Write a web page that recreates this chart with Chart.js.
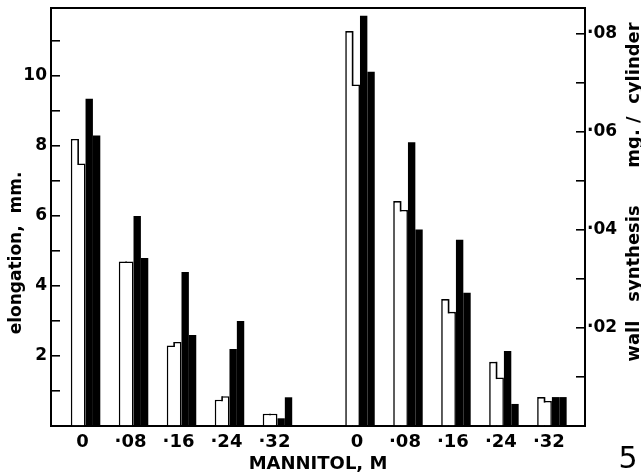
<!DOCTYPE html>
<html>
<head>
<meta charset="utf-8">
<script src="https://cdn.jsdelivr.net/npm/chart.js@4.4.1/dist/chart.umd.min.js"></script>
<style>
  html, body { margin: 0; padding: 0; background: #fff; }
  canvas { display: block; }
</style>
</head>
<body>
<canvas id="myChart" width="641" height="475"></canvas>
<script>
// mannitol concentration (M), same five levels in both halves
var mannitol = ['0', '·08', '·16', '·24', '·32'];

// left half: elongation, mm.
var elongOpenA  = [8.2, 4.7, 2.3, 0.75, 0.35];
var elongOpenB  = [7.5, 4.7, 2.4, 0.85, 0.35];
var elongSolidA = [9.35, 6.0, 4.4, 2.2, 0.22];
var elongSolidB = [8.3, 4.8, 2.6, 3.0, 0.82];

// right half: wall synthesis, mg. / cylinder
var wallOpenA  = [0.0806, 0.0459, 0.0259, 0.0131, 0.0059];
var wallOpenB  = [0.0697, 0.0441, 0.0233, 0.0099, 0.0051];
var wallSolidA = [0.0837, 0.0579, 0.0380, 0.0153, 0.0059];
var wallSolidB = [0.0723, 0.0401, 0.0272, 0.0045, 0.0059];

var leftTickLabels  = ['2', '4', '6', '8', '10'];
var rightTickLabels = ['·02', '·04', '·06', '·08'];

// slot positions on the x axis; the second half starts after a wider gap
var GAP = 1.72;
var leftX  = mannitol.map(function (m, i) { return i; });
var rightX = mannitol.map(function (m, i) { return i + 4 + GAP; });
var allX = leftX.concat(rightX);
var allLabels = mannitol.concat(mannitol);

function pts(xs, ys) {
    return ys.map(function (v, i) { return {x: xs[i], y: v}; });
}

var FONT = "'DejaVu Sans', sans-serif";
var open  = {backgroundColor: '#fff', borderColor: '#000', borderSkipped: false};
var solid = {backgroundColor: '#000', borderColor: '#000', borderWidth: 0};

function ds(label, data, axis, stack, style, bw) {
    var d = Object.assign({label: label, data: data, yAxisID: axis, stack: stack,
        categoryPercentage: 0.615, barPercentage: 1.0}, style);
    if (bw) d.borderWidth = bw;
    return d;
}

function noPad(s) {
    s.paddingTop = 0;
    s.paddingBottom = 0;
    s.paddingLeft = 0;
    s.paddingRight = 0;
}

var stepLines = {
    id: 'stepLines',
    afterDatasetsDraw: function (chart) {
        var ctx = chart.ctx;
        ctx.save();
        ctx.strokeStyle = '#000';
        ctx.lineWidth = 1.6;
        [[0, 1], [4, 5]].forEach(function (p) {
            var a = chart.getDatasetMeta(p[0]).data;
            var b = chart.getDatasetMeta(p[1]).data;
            a.forEach(function (el, i) {
                var x = el.x + el.width / 2;
                var y1 = Math.min(el.y, b[i].y), y2 = Math.max(el.y, b[i].y) + 1.6;
                ctx.beginPath();
                ctx.moveTo(x, y1);
                ctx.lineTo(x, y2);
                ctx.stroke();
            });
        });
        ctx.restore();
    },
    afterDraw: function (chart) {
        var ctx = chart.ctx, area = chart.chartArea;
        ctx.save();
        // top edge of the frame
        ctx.strokeStyle = '#000';
        ctx.lineWidth = 2;
        ctx.beginPath();
        ctx.moveTo(area.left - 1, area.top);
        ctx.lineTo(area.right + 1, area.top);
        ctx.stroke();
        ctx.fillStyle = '#000';
        ctx.textAlign = 'center';
        ctx.textBaseline = 'middle';
        ctx.font = 'bold 17px ' + FONT;
        ctx.save();
        ctx.translate(17, 253);
        ctx.rotate(-Math.PI / 2);
        ctx.fillText('elongation,  mm.', 0, 0);
        ctx.restore();
        ctx.font = 'bold 18px ' + FONT;
        ctx.save();
        ctx.translate(634, 192);
        ctx.rotate(-Math.PI / 2);
        ctx.fillText('wall   synthesis      mg. /  cylinder', 0, 0);
        ctx.restore();
        ctx.font = '30px ' + FONT;
        ctx.fillText('5', 628, 460);
        ctx.restore();
    }
};

var ctx = document.getElementById('myChart').getContext('2d');
var myChart = new Chart(ctx, {
    type: 'bar',
    data: {
        datasets: [
            ds('elongation A', pts(leftX, elongOpenA), 'y', 'oa', open, {left: 1.6, top: 1.6, right: 0, bottom: 0}),
            ds('elongation B', pts(leftX, elongOpenB), 'y', 'ob', open, {left: 0, top: 1.6, right: 1.6, bottom: 0}),
            ds('elongation C', pts(leftX, elongSolidA), 'y', 'sa', solid),
            ds('elongation D', pts(leftX, elongSolidB), 'y', 'sb', solid),
            ds('wall A', pts(rightX, wallOpenA), 'y2', 'oa', open, {left: 1.6, top: 1.6, right: 0, bottom: 0}),
            ds('wall B', pts(rightX, wallOpenB), 'y2', 'ob', open, {left: 0, top: 1.6, right: 1.6, bottom: 0}),
            ds('wall C', pts(rightX, wallSolidA), 'y2', 'sa', solid),
            ds('wall D', pts(rightX, wallSolidB), 'y2', 'sb', solid)
        ]
    },
    options: {
        responsive: false,
        animation: false,
        layout: { padding: {top: 8, left: 0, right: 0, bottom: 0} },
        plugins: {
            legend: { display: false },
            tooltip: { enabled: false },
            title: { display: false }
        },
        scales: {
            x: {
                type: 'linear',
                offset: false,
                bounds: 'data',
                min: -0.72,
                max: 9.72 + 0.69,
                afterBuildTicks: function (s) {
                    s.ticks = allX.map(function (v) { return {value: v}; });
                },
                afterFit: function (s) { s.height = 49; noPad(s); },
                grid: { display: false, drawTicks: false },
                border: { display: true, color: '#000', width: 2 },
                ticks: {
                    autoSkip: false,
                    maxRotation: 0,
                    padding: 6,
                    labelOffset: -3,
                    color: '#000',
                    font: { family: FONT, size: 18, weight: 'bold' },
                    callback: function (v, i) { return allLabels[i]; }
                },
                title: {
                    display: true,
                    text: 'MANNITOL, M',
                    color: '#000',
                    padding: {top: -4, bottom: 0},
                    font: { family: FONT, size: 18, weight: 'bold' }
                }
            },
            y: {
                position: 'left',
                min: 0,
                max: 11.94,
                stacked: false,
                afterFit: function (s) { s.width = 51; noPad(s); },
                grid: { drawOnChartArea: false, tickLength: -9, color: '#000', lineWidth: 1.6 },
                border: { display: true, color: '#000', width: 2 },
                ticks: {
                    stepSize: 1,
                    includeBounds: false,
                    autoSkip: false,
                    padding: 13,
                    color: '#000',
                    font: { family: FONT, size: 17, weight: 'bold' },
                    callback: function (v) {
                        var k = Math.round(v);
                        return (k > 0 && k % 2 === 0) ? leftTickLabels[k / 2 - 1] : '';
                    }
                }
            },
            y2: {
                position: 'right',
                min: 0,
                max: 0.0853,
                stacked: false,
                afterFit: function (s) { s.width = 56; noPad(s); },
                grid: { drawOnChartArea: false, tickLength: -9, color: '#000', lineWidth: 1.6 },
                border: { display: true, color: '#000', width: 2 },
                ticks: {
                    stepSize: 0.01,
                    includeBounds: false,
                    autoSkip: false,
                    padding: 11,
                    color: '#000',
                    font: { family: FONT, size: 17, weight: 'bold' },
                    callback: function (v) {
                        var k = Math.round(v * 100);
                        return (k > 0 && k % 2 === 0) ? rightTickLabels[k / 2 - 1] : '';
                    }
                }
            }
        }
    },
    plugins: [stepLines]
});
</script>
</body>
</html>
